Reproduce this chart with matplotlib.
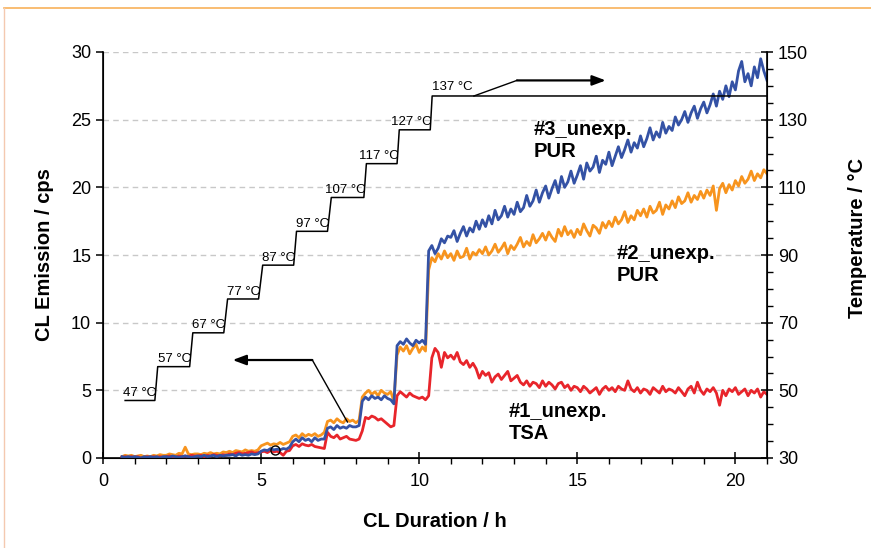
import numpy as np
import matplotlib.pyplot as plt
from matplotlib.lines import Line2D
from matplotlib.ticker import MultipleLocator, FixedLocator

plt.rcParams['font.family'] = ['Liberation Sans', 'DejaVu Sans']

# time grid (h): 0.6 ... 21.0 in 0.1 h steps
hours = np.arange(6, 211) / 10.0

pur2 = [0.1, 0.2, 0.15, 0.2,
        0.1, 0.15, 0.2, 0.1, 0.15, 0.1, 0.2, 0.15, 0.25, 0.2,
        0.2, 0.3, 0.25, 0.2, 0.35, 0.3, 0.8, 0.3, 0.25, 0.3,
        0.3, 0.25, 0.35, 0.3, 0.4, 0.3, 0.35, 0.3, 0.45, 0.4,
        0.5, 0.4, 0.55, 0.5, 0.45, 0.6, 0.5, 0.55, 0.5, 0.6,
        0.9, 1.0, 1.1, 0.95, 1.05, 1.0, 1.15, 1.0, 1.1, 1.2,
        1.6, 1.7, 1.5, 1.8, 1.6, 1.75, 1.65, 1.8, 1.6, 1.7,
        1.9, 2.7, 2.8, 2.6, 2.9, 2.7, 2.6, 2.9, 2.7, 2.8,
        2.6, 2.8, 4.5, 4.8, 5.0, 4.7, 4.9, 4.6, 5.0, 4.8,
        4.7, 4.9, 4.2, 7.6, 8.2, 7.9, 8.3, 7.7, 8.1, 8.4,
        7.8, 8.2, 7.9, 13.9, 14.8, 14.5, 15.1, 14.7, 15.3, 14.8,
        15.1, 14.6, 15.3, 14.8, 14.9, 15.5, 14.7, 15.2, 15.0, 15.4,
        15.1, 15.6, 15.0, 15.3, 15.8, 15.2, 15.5, 15.9, 15.1, 15.7,
        15.4, 15.8, 16.3, 15.6, 16.0, 15.7, 16.5, 15.9, 16.2, 16.6,
        16.1, 16.7, 16.3, 16.0, 16.9, 16.4, 17.1, 16.5, 16.8, 16.3,
        16.9, 16.5, 17.3, 16.8, 16.4, 17.2, 17.0, 16.6, 17.4, 17.0,
        17.5, 17.1, 17.8, 17.3, 17.6, 18.2, 17.4, 17.9, 17.6, 18.3,
        17.9, 18.4, 17.8, 18.6, 18.1, 18.3, 18.9, 18.0, 18.7, 18.4,
        19.0, 18.5, 19.3, 18.8, 19.0, 19.6, 18.9, 19.4, 19.1, 19.7,
        19.2, 19.8, 19.4, 20.1, 18.3, 19.9, 20.3, 19.6, 20.2, 19.8,
        20.5, 20.1, 20.8, 20.3, 20.6, 21.2, 20.5, 21.0, 20.7, 21.3,
        21.0]

pur3 = [0.1, 0.05, 0.1, 0.05,
        0.1, 0.05, 0.0, 0.1, 0.05, 0.1, 0.05, 0.1, 0.0, 0.1,
        0.1, 0.05, 0.15, 0.1, 0.05, 0.1, 0.15, 0.1, 0.05, 0.1,
        0.15, 0.1, 0.2, 0.1, 0.15, 0.2, 0.1, 0.2, 0.15, 0.2,
        0.2, 0.25, 0.15, 0.3, 0.2, 0.25, 0.2, 0.3, 0.25, 0.3,
        0.5, 0.6, 0.55, 0.7, 0.6, 0.65, 0.6, 0.7, 0.65, 0.8,
        1.2, 1.4, 1.2, 1.5, 1.3, 1.4, 1.2, 1.5, 1.3, 1.4,
        1.4, 2.2, 2.3, 2.1, 2.4, 2.2, 2.3, 2.2, 2.4, 2.3,
        2.3, 2.4, 4.2, 4.5, 4.3, 4.6, 4.4, 4.5, 4.3, 4.6,
        4.4, 4.3, 4.0, 8.3, 8.6, 8.4, 8.8, 8.5, 8.3, 8.7,
        8.5, 8.7, 8.4, 15.3, 15.7, 15.1, 15.5, 16.2, 15.9, 16.4,
        16.3, 16.8, 16.0, 16.6, 17.1, 16.4, 17.0, 16.7, 17.5, 16.9,
        17.6, 17.1, 17.9, 17.3, 18.3, 17.6, 17.9, 18.6, 17.8, 18.4,
        18.0, 18.9, 18.2, 18.5, 19.4, 18.6, 19.0, 19.8, 18.9, 19.6,
        20.1, 19.2, 19.9, 20.5, 19.6, 20.8, 20.0, 20.4, 21.2, 20.3,
        20.9, 21.6, 20.6, 21.8, 21.2, 21.5, 22.3, 21.1, 22.0, 21.7,
        22.6, 21.6, 22.3, 23.0, 22.2, 22.8, 23.5, 22.6, 23.3, 22.9,
        23.8, 23.0, 23.6, 24.4, 23.5, 24.1, 23.7, 24.8, 24.0, 24.5,
        24.2, 25.2, 24.6, 25.0, 25.6, 24.8, 25.5, 26.0, 25.1, 25.8,
        26.3, 25.5, 26.1, 26.9, 26.0, 27.1, 26.5, 27.5, 26.7, 27.8,
        27.2, 28.6, 29.3, 27.8, 28.4, 27.5, 28.9, 28.1, 29.5, 28.6,
        27.9]

tsa1 = [0.05, 0.1, 0.05, 0.1,
        0.05, 0.1, 0.0, 0.05, 0.1, 0.05, 0.1, 0.05, 0.1, 0.05,
        0.1, 0.15, 0.1, 0.05, 0.15, 0.1, 0.15, 0.1, 0.2, 0.15,
        0.15, 0.2, 0.1, 0.2, 0.15, 0.25, 0.2, 0.15, 0.25, 0.2,
        0.3, 0.25, 0.35, 0.4, 0.3, 0.35, 0.4, 0.45, 0.35, 0.4,
        0.45, 0.5, 0.4, 0.55, 0.45, 0.5, 0.4, 0.2, 0.5, 0.55,
        0.9, 1.0, 0.85, 1.05, 0.95, 0.9, 1.0, 0.85, 0.8, 0.75,
        0.7, 1.9, 1.6, 1.5, 1.7, 1.4, 1.5, 1.6, 1.4, 1.35,
        1.3, 1.4, 2.0, 3.0, 2.9, 3.1, 3.0, 2.8, 2.9, 2.7,
        2.5, 2.3, 2.4, 4.6, 4.9, 4.7, 4.5, 4.8, 4.6, 4.5,
        4.4, 4.5, 4.3, 4.6, 7.4, 8.1, 7.8, 6.7, 7.8, 7.4,
        7.6, 7.3, 7.8, 7.1, 6.9, 7.2, 6.7, 7.0, 6.6, 5.9,
        6.4, 6.1, 6.3, 5.6, 6.0, 6.2, 5.8, 6.1, 6.4, 5.7,
        5.9, 6.1, 5.6, 5.4, 5.7, 5.3, 5.6, 5.5, 5.2, 5.7,
        5.3, 5.6, 5.4, 5.1, 5.5, 5.6, 5.2, 5.4, 5.0, 5.3,
        5.2, 4.9, 5.3, 5.1, 4.8, 5.0, 5.2, 4.7, 5.1, 5.3,
        5.0, 5.2, 4.9, 5.3, 5.1, 5.0, 5.7, 5.1, 4.9, 5.2,
        4.8, 5.1, 5.0, 4.7, 5.2, 5.0, 4.8, 5.3, 4.9, 5.1,
        5.0, 4.8, 5.2, 4.9, 4.6, 5.1, 5.3, 4.8, 5.6, 5.0,
        4.7, 5.1, 4.9, 5.2, 4.8, 3.9, 5.0, 4.6, 5.1, 4.9,
        5.2, 4.7, 4.9, 5.1, 4.6, 5.0, 4.8, 5.1, 4.5, 4.9,
        4.7]

# temperature program (plateaus)
step_start = [0.70, 1.73, 2.84, 3.94, 5.05, 6.12, 7.22, 8.33, 9.37, 10.41]
step_end = [1.64, 2.74, 3.82, 4.92, 6.03, 7.10, 8.25, 9.30, 10.35, 21.0]
step_temp = [47, 57, 67, 77, 87, 97, 107, 117, 127, 137]

series_labels = ["#1_unexp.\nTSA", "#2_unexp.\nPUR", "#3_unexp.\nPUR"]

C_BLUE = "#3452A5"
C_ORANGE = "#F7941E"
C_RED = "#E8252B"

fig = plt.figure(figsize=(8.71, 5.48), dpi=100)
ax = fig.add_axes([103 / 871, 1 - 458 / 548, (767 - 103) / 871, (458 - 52) / 548])
ax2 = ax.twinx()

ax.set_xlim(0, 21)
ax.set_ylim(0, 30)
ax2.set_ylim(30, 150)

# grid
for g in [5, 10, 15, 20, 25, 30]:
    ax.axhline(g, color="#c8c8c8", lw=1.0, ls=(0, (4, 3)), zorder=0)

ax.plot(hours, pur2, color=C_ORANGE, lw=2.0, zorder=2)
ax.plot(hours, tsa1, color=C_RED, lw=2.0, zorder=3)
ax.plot(hours, pur3, color=C_BLUE, lw=2.0, zorder=4)

# temperature steps
tx, ty = [], []
for s, e, T in zip(step_start, step_end, step_temp):
    tx += [s, e]
    ty += [T, T]
ax2.plot(tx, ty, color="black", lw=1.1)
for i, (s, e, T) in enumerate(zip(step_start, step_end, step_temp)):
    if i == len(step_temp) - 1:
        ax2.annotate(f"{T} °C", (s, T), xytext=(0, 2), textcoords="offset points",
                     ha="left", va="bottom", fontsize=9.5)
    else:
        ax2.annotate(f"{T} °C", (e, T), xytext=(1, 1), textcoords="offset points",
                     ha="right", va="bottom", fontsize=9.5)

# arrows
ax.plot([7.73, 6.62], [2.66, 7.24], color="black", lw=1.0, zorder=6)
ax.annotate("", xy=(4.1, 7.24), xytext=(6.62, 7.24),
            arrowprops=dict(arrowstyle="-|>,head_length=0.8,head_width=0.3", color="black", lw=1.6,
                            shrinkA=0, shrinkB=0), zorder=6)
ax.plot([11.73, 13.09], [26.75, 27.9], color="black", lw=1.0, zorder=6)
ax.annotate("", xy=(15.9, 27.9), xytext=(13.09, 27.9),
            arrowprops=dict(arrowstyle="-|>,head_length=0.8,head_width=0.3", color="black", lw=1.6,
                            shrinkA=0, shrinkB=0), zorder=6)
ax.plot([5.43], [0.6], marker="o", ms=6.5, mfc="none", mec="black", mew=1.0, zorder=7)

# series labels
lab_kw = dict(fontsize=14.5, fontweight="bold", ha="left", va="center", linespacing=1.2)
ax.text(12.84, 2.66, series_labels[0], **lab_kw)
ax.text(16.25, 14.3, series_labels[1], **lab_kw)
ax.text(13.63, 23.47, series_labels[2], **lab_kw)

# ticks / spines
ax.spines["top"].set_visible(False)
ax2.spines["top"].set_visible(False)
for sp in ["left", "bottom"]:
    ax.spines[sp].set_linewidth(1.2)
ax2.spines["right"].set_linewidth(1.2)

ax.xaxis.set_major_locator(FixedLocator([0, 5, 10, 15, 20]))
ax.xaxis.set_minor_locator(MultipleLocator(1))
ax.yaxis.set_major_locator(MultipleLocator(5))
ax2.yaxis.set_major_locator(FixedLocator([30, 50, 70, 90, 110, 130, 150]))
ax2.yaxis.set_minor_locator(MultipleLocator(5))

ax.tick_params(axis="x", which="major", direction="inout", length=9, width=1.1, labelsize=13, pad=6)
ax.tick_params(axis="x", which="minor", direction="out", length=4, width=1.0)
ax.tick_params(axis="y", which="major", direction="out", length=5, width=1.1, labelsize=13)
ax2.tick_params(axis="y", which="major", direction="inout", length=9, width=1.1, labelsize=13)
ax2.tick_params(axis="y", which="minor", direction="out", length=4, width=1.0)

ax.set_xlabel("CL Duration / h", fontsize=14.5, fontweight="bold", labelpad=16)
ax.set_ylabel("CL Emission / cps", fontsize=14.5, fontweight="bold", labelpad=12)
ax2.set_ylabel("Temperature / °C", fontsize=14.5, fontweight="bold")
ax2.yaxis.set_label_coords(1.122, 0.542)

# orange frame lines
fig.add_artist(Line2D([4 / 871, 1], [1 - 8 / 548, 1 - 8 / 548], transform=fig.transFigure,
                      color="#F8B15A", lw=1.2))
fig.add_artist(Line2D([4 / 871, 4 / 871], [0, 1 - 8 / 548], transform=fig.transFigure,
                      color="#F4C9B0", lw=1.0))

fig.savefig("out.png", dpi=100)
